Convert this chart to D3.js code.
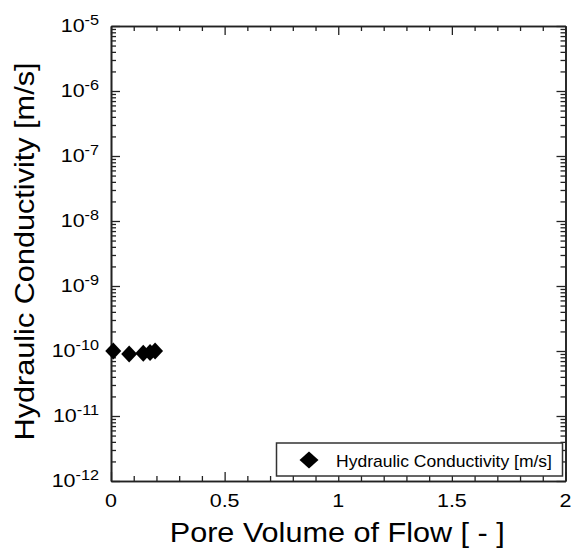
<!DOCTYPE html>
<html><head><meta charset="utf-8">
<script src="https://cdn.jsdelivr.net/npm/d3@7"></script>
<style>body{margin:0;background:#fff}svg{display:block}text{font-family:"Liberation Sans",Arial,sans-serif;fill:#000}</style>
</head><body>
<svg id="c" width="574" height="549"></svg>
<script>
const poreVolume = [0.01, 0.08, 0.142, 0.172, 0.194];
const conductivity = [1.0e-10, 0.9e-10, 0.92e-10, 0.95e-10, 1.0e-10];
const xTickValues = [0, 0.5, 1, 1.5, 2];
const xTickLabels = ["0", "0.5", "1", "1.5", "2"];
const yExponents = [-12, -11, -10, -9, -8, -7, -6, -5];
const seriesName = "Hydraulic Conductivity [m/s]";
const xTitle = "Pore Volume of Flow [ - ]";
const yTitle = "Hydraulic Conductivity [m/s]";

const svg = d3.select("#c");
const L = 111, R = 565.5, T = 26, B = 481;
const x = d3.scaleLinear().domain([0, 2]).range([L, R]);
const y = d3.scaleLog().domain([1e-12, 1e-5]).range([B, T]);
const axisColor = "#222";

const xMinor = d3.range(0, 2.0001, 0.1).map(v => +v.toFixed(2)).filter(v => !xTickValues.includes(v));
const yMinor = [];
for (let e = -12; e < -5; e++) for (let m = 2; m <= 9; m++) yMinor.push(m * Math.pow(10, e));
const yMajor = yExponents.map(e => Math.pow(10, e));

function styleAxis(g) {
  g.select(".domain").attr("stroke", axisColor).attr("stroke-width", 1.6);
  g.selectAll(".tick line").attr("stroke", axisColor).attr("stroke-width", 1.3);
}
function addAxes(gen, pos, transform) {
  svg.append("g").attr("transform", transform)
    .call(gen.tickValues(pos.major).tickSizeInner(-9).tickSizeOuter(0).tickFormat(""))
    .call(styleAxis);
}
[[d3.axisBottom, `translate(0,${B})`, x, xTickValues, xMinor],
 [d3.axisTop, `translate(0,${T})`, x, xTickValues, xMinor],
 [d3.axisLeft, `translate(${L},0)`, y, yMajor, yMinor],
 [d3.axisRight, `translate(${R},0)`, y, yMajor, yMinor]].forEach(([fn, tr, sc, maj, min]) => {
  svg.append("g").attr("transform", tr)
    .call(fn(sc).tickValues(maj).tickSizeInner(-9).tickSizeOuter(0).tickFormat("")).call(styleAxis);
  svg.append("g").attr("transform", tr)
    .call(fn(sc).tickValues(min).tickSizeInner(-5).tickSizeOuter(0).tickFormat("")).call(styleAxis);
});

const SX = 1.16;
// x tick labels
svg.append("g").selectAll("text").data(xTickValues).join("text")
  .attr("transform", d => `translate(${x(d)},506.7) scale(${SX},1)`)
  .attr("text-anchor", "middle").attr("font-size", 18.5).text((d, i) => xTickLabels[i]);

// y tick labels 10^e
const yl = svg.append("g").selectAll("text").data(yExponents).join("text")
  .attr("transform", d => `translate(99,${y(Math.pow(10, d)) + 6}) scale(${SX},1)`)
  .attr("text-anchor", "end").attr("font-size", 18.5);
yl.append("tspan").text("10");
yl.append("tspan").attr("dy", -7.5).attr("font-size", 14).text(d => String(d));

// axis titles
svg.append("text").attr("x", (L + R) / 2 - 1).attr("y", 541.7).attr("text-anchor", "middle")
  .attr("font-size", 28).attr("textLength", 335).attr("lengthAdjust", "spacingAndGlyphs").text(xTitle);
svg.append("text").attr("transform", `translate(34,${(T + B) / 2 - 2}) rotate(-90)`)
  .attr("text-anchor", "middle").attr("font-size", 28.5)
  .attr("textLength", 378).attr("lengthAdjust", "spacingAndGlyphs").text(yTitle);

// diamonds
const diamond = (hw, hh) => `M0,${-hh}L${hw},0L0,${hh}L${-hw},0Z`;
svg.append("g").selectAll("path").data(poreVolume).join("path")
  .attr("transform", (d, i) => `translate(${x(d)},${y(conductivity[i])})`)
  .attr("d", diamond(8, 8.5)).attr("fill", "#000");

// legend
const lg = svg.append("g");
lg.append("rect").attr("x", 276.5).attr("y", 443).attr("width", 286).attr("height", 33)
  .attr("fill", "#fff").attr("stroke", "#333").attr("stroke-width", 1.5);
lg.append("path").attr("transform", "translate(309,460)").attr("d", diamond(9.5, 8.5)).attr("fill", "#000");
lg.append("text").attr("x", 336).attr("y", 466.5).attr("font-size", 16.2)
  .attr("textLength", 216).attr("lengthAdjust", "spacingAndGlyphs").text(seriesName);
</script>
</body></html>
